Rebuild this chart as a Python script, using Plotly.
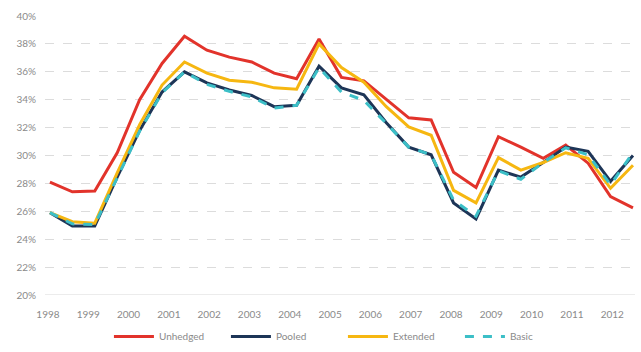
import plotly.graph_objects as go

# 27 observation periods spanning 1998-2012 (index positions)
periods = list(range(27))
year_labels = ["1998", "1999", "2000", "2001", "2002", "2003", "2004", "2005",
               "2006", "2007", "2008", "2009", "2010", "2011", "2012"]

unhedged = [28.1, 27.4, 27.45, 30.2, 34.0, 36.6, 38.55, 37.55, 37.05, 36.7, 35.9, 35.5,
            38.35, 35.6, 35.35, 34.0, 32.7, 32.55, 28.8, 27.7, 31.35, 30.6, 29.8, 30.75,
            29.45, 27.05, 26.25]
pooled = [25.9, 24.95, 24.95, 28.45, 31.8, 34.55, 36.0, 35.2, 34.7, 34.3, 33.5, 33.6,
          36.4, 34.85, 34.35, 32.35, 30.6, 30.05, 26.6, 25.45, 28.95, 28.45, 29.5, 30.6,
          30.3, 28.15, 30.0]
extended = [25.9, 25.25, 25.15, 28.75, 32.2, 35.05, 36.7, 35.9, 35.4, 35.25, 34.85, 34.75,
            38.0, 36.3, 35.25, 33.5, 32.05, 31.45, 27.5, 26.6, 29.85, 28.95, 29.5, 30.2,
            29.8, 27.65, 29.3]
basic = [25.9, 25.1, 25.05, 28.4, 31.75, 34.5, 36.0, 35.1, 34.6, 34.2, 33.4, 33.6,
         36.3, 34.55, 33.95, 32.3, 30.6, 30.05, 26.8, 25.65, 28.9, 28.3, 29.5, 30.55,
         30.05, 27.9, 30.2]

# positions of the year labels along the period index
tick_pos = [-0.09 + 1.7975 * k for k in range(len(year_labels))]

series = [
    ("Unhedged", unhedged, "#e2332b", "solid"),
    ("Pooled", pooled, "#1d3557", "solid"),
    ("Extended", extended, "#f6b711", "solid"),
    ("Basic", basic, "#3cbfc7", "dash"),
]

fig = go.Figure()
for name, vals, col, dash in series:
    fig.add_trace(go.Scatter(
        x=periods, y=vals, name=name, mode="lines",
        line=dict(color=col, width=3, dash=dash),
    ))

fig.update_layout(
    width=641, height=352,
    margin=dict(l=45, r=6, t=16, b=57, autoexpand=False),
    paper_bgcolor="white", plot_bgcolor="white",
    font=dict(family="Lato, Open Sans, sans-serif", size=10, color="#8a8a8a"),
    showlegend=True,
    legend=dict(orientation="h", x=0.535, xanchor="center", xref="container",
                y=0.003, yanchor="bottom", yref="container",
                font=dict(size=10, color="#8a8a8a"), itemwidth=40,
                entrywidth=62, entrywidthmode="pixels",
                traceorder="normal"),
)
fig.update_xaxes(
    range=[-0.22, 26.09], tickmode="array", tickvals=tick_pos, ticktext=year_labels,
    showgrid=False, zeroline=False, showline=False,
    ticks="outside", ticklen=10, tickcolor="rgba(0,0,0,0)",
    automargin=False,
)
fig.update_yaxes(
    range=[20, 40], tickmode="array", tickvals=list(range(20, 41, 2)),
    ticktext=[f"{v}%" for v in range(20, 41, 2)],
    showgrid=True, gridcolor="#dcdcdc", griddash="dash", gridwidth=1,
    zeroline=False, showline=False, ticks="outside", ticklen=6,
    tickcolor="rgba(0,0,0,0)", automargin=False,
)
fig.add_hline(y=20, line=dict(color="#d9d9d9", width=1))

fig.write_html("out.html")
